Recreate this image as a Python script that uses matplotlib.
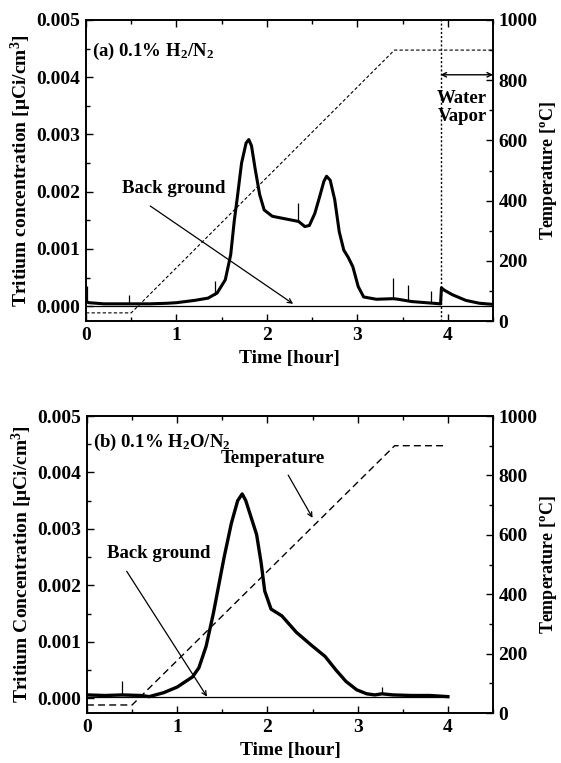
import matplotlib
matplotlib.use("Agg")
import matplotlib.pyplot as plt
from matplotlib.ticker import MultipleLocator, FormatStrFormatter

plt.rcParams['font.family'] = ['Liberation Serif', 'DejaVu Serif']
plt.rcParams['font.weight'] = 'bold'
plt.rcParams['mathtext.fontset'] = 'custom'
plt.rcParams['mathtext.rm'] = 'Liberation Serif:bold'
plt.rcParams['mathtext.bf'] = 'Liberation Serif:bold'
plt.rcParams['mathtext.it'] = 'Liberation Serif:bold:italic'
plt.rcParams['mathtext.default'] = 'rm'

# ---------------- Panel (a): 0.1% H2/N2 ----------------
a_time = [0.0, 0.03, 0.2, 0.4, 0.5, 0.7, 0.9, 1.0, 1.2, 1.35, 1.45,
          1.54, 1.60, 1.64, 1.67, 1.72, 1.77, 1.80, 1.83, 1.87, 1.92, 1.97, 2.06, 2.22,
          2.35, 2.42, 2.47, 2.53, 2.59, 2.63, 2.66, 2.70, 2.75, 2.80, 2.85,
          2.90, 2.95, 3.01, 3.07, 3.21, 3.40, 3.45, 3.60,
          3.92, 3.93, 3.96, 4.05, 4.2, 4.35, 4.5]
a_conc = [0.00008, 0.00006, 0.00004, 0.00004, 0.00004, 0.00004, 0.00005,
          0.00006, 0.0001, 0.00014, 0.00023, 0.00046, 0.0009, 0.0015,
          0.00186, 0.0025, 0.00285, 0.00291, 0.0028, 0.0024, 0.00195, 0.00168, 0.00157,
          0.00152, 0.00148, 0.00139, 0.00141, 0.00162, 0.00195, 0.00218,
          0.00227, 0.0022, 0.00186, 0.0013, 0.00098, 0.00085, 0.00069, 0.00034, 0.00016,
          0.00012, 0.00013, 0.00012, 0.00008,
          0.00004, 0.00032, 0.00028, 0.0002, 0.0001, 0.00005, 0.00003]
a_spike_time = [0.01, 0.48, 1.43, 2.34, 3.39, 3.56, 3.82]
a_spike_top = [0.00035, 0.0002, 0.00044, 0.0018, 0.0005, 0.00037, 0.00027]
a_spike_base = [0.00008, 0.00004, 0.0002, 0.00149, 0.00013, 0.0001, 0.00005]
a_temp_time = [0.0, 0.5, 3.41, 4.5]
a_temp = [27, 27, 900, 900]
a_vapor_time = 3.92

# ---------------- Panel (b): 0.1% H2O/N2 ----------------
b_time = [0.0, 0.2, 0.39, 0.6, 0.69, 0.85, 1.0, 1.17, 1.24, 1.32, 1.40, 1.46,
          1.52, 1.60, 1.67, 1.72, 1.76, 1.82, 1.88, 1.93, 1.97, 2.04, 2.16, 2.32, 2.48,
          2.64, 2.76, 2.87, 2.99, 3.10, 3.19, 3.27, 3.39, 3.6, 3.8, 4.0]
b_conc = [0.00006, 0.00005, 0.00006, 0.00005, 0.00003, 0.0001, 0.0002,
          0.00038, 0.00054, 0.00092, 0.0015, 0.0020, 0.0025, 0.0031, 0.0035, 0.00362,
          0.0035, 0.0032, 0.0029, 0.0024, 0.0019, 0.00158, 0.00146, 0.00117, 0.00095,
          0.00074, 0.0005, 0.0003, 0.00015, 0.00008, 0.00006, 0.00008,
          0.00006, 0.00005, 0.00005, 0.00003]
b_spike_time = [0.39, 3.27]
b_spike_top = [0.0003, 0.0002]
b_spike_base = [0.00006, 0.00008]
b_temp_time = [0.0, 0.5, 3.41, 3.98]
b_temp = [27, 27, 900, 900]

FS = 14
TFS = 13.5
RFS = 13


def style(ax, ax2, ylabel):
    ax.set_xlim(0, 4.5)
    ax.set_ylim(-0.00026, 0.005)
    ax2.set_ylim(0, 1000)
    ax.xaxis.set_major_locator(MultipleLocator(1))
    ax.xaxis.set_minor_locator(MultipleLocator(0.5))
    ax.yaxis.set_major_locator(MultipleLocator(0.001))
    ax.yaxis.set_minor_locator(MultipleLocator(0.0005))
    ax.yaxis.set_major_formatter(FormatStrFormatter('%.3f'))
    ax2.yaxis.set_major_locator(MultipleLocator(200))
    ax2.yaxis.set_minor_locator(MultipleLocator(100))
    ax.tick_params(which='both', direction='in', top=True, right=False,
                   labelsize=FS, width=1.0, pad=4)
    ax.tick_params(which='major', length=5)
    ax.tick_params(which='minor', length=3)
    ax2.tick_params(which='both', direction='in', labelsize=FS, width=1.0, pad=4)
    ax2.tick_params(which='major', length=5)
    ax2.tick_params(which='minor', length=3)
    for a in (ax, ax2):
        for s in a.spines.values():
            s.set_linewidth(1.2)
        for lab in a.get_xticklabels() + a.get_yticklabels():
            lab.set_fontweight('bold')
    ax.set_xlabel('Time [hour]', fontsize=FS, fontweight='bold', labelpad=5)
    ax.set_ylabel(ylabel, fontsize=FS, fontweight='bold', labelpad=2)
    ax2.set_ylabel('Temperature [$^{\\rm o}$C]', fontsize=RFS, fontweight='bold',
                   labelpad=0)


fig = plt.figure(figsize=(5.61, 7.63), dpi=100)

# ---- (a)
ax = fig.add_axes([86 / 561, 1 - 321 / 763, 407 / 561, 301 / 763])
ax2 = ax.twinx()
ax.plot([0, 4.5], [0, 0], color='black', lw=0.9)
ax.plot(a_time, a_conc, color='black', lw=2.2, solid_joinstyle='round')
ax.vlines(a_spike_time, a_spike_base, a_spike_top, color='black', lw=0.9)
ax2.plot(a_temp_time, a_temp, color='black', lw=0.8, ls=(0, (3, 2)))
ax2.axvline(a_vapor_time, color='black', lw=1.0, ls=(0, (1.5, 1.5)))
ax2.annotate('', xy=(a_vapor_time, 818), xytext=(4.5, 818),
             arrowprops=dict(arrowstyle='<->', color='black', lw=1.0,
                             shrinkA=0, shrinkB=0, mutation_scale=8))
ax2.text(4.16, 709, 'Water\nVapor', ha='center', va='center', fontsize=TFS,
         fontweight='bold', linespacing=1.1)
ax.text(0.015, 0.894, '(a) 0.1% H$_2$/N$_2$', transform=ax.transAxes,
        fontsize=TFS, fontweight='bold', va='center', ha='left')
ax.text(0.97, 0.00205, 'Back ground', ha='center', va='center', fontsize=TFS,
        fontweight='bold')
ax.annotate('', xy=(2.29, 0.00004), xytext=(0.71, 0.00175),
            arrowprops=dict(arrowstyle='->', color='black', lw=0.9,
                            shrinkA=0, shrinkB=0, mutation_scale=8))
style(ax, ax2, 'Tritium concentration [$\\mu$Ci/cm$^3$]')

# ---- (b)
bx = fig.add_axes([87 / 561, 1 - 713 / 763, 406 / 561, 297 / 763])
bx2 = bx.twinx()
bx.plot([0, 4.0], [0.00002, 0.00002], color='black', lw=0.9)
bx.plot(b_time, b_conc, color='black', lw=2.4, solid_joinstyle='round')
bx.vlines(b_spike_time, b_spike_base, b_spike_top, color='black', lw=0.9)
bx2.plot(b_temp_time, b_temp, color='black', lw=1.0, ls=(0, (5, 3)))
bx.text(0.015, 0.91, '(b) 0.1% H$_2$O/N$_2$', transform=bx.transAxes,
        fontsize=TFS, fontweight='bold', va='center', ha='left')
bx2.text(2.06, 858, 'Temperature', ha='center', va='center', fontsize=TFS,
         fontweight='bold')
bx2.annotate('', xy=(2.50, 657), xytext=(2.23, 801),
             arrowprops=dict(arrowstyle='->', color='black', lw=0.9,
                             shrinkA=0, shrinkB=0, mutation_scale=8))
bx.text(0.79, 0.00257, 'Back ground', ha='center', va='center', fontsize=TFS,
        fontweight='bold')
bx.annotate('', xy=(1.33, 0.00003), xytext=(0.44, 0.00225),
            arrowprops=dict(arrowstyle='->', color='black', lw=0.9,
                            shrinkA=0, shrinkB=0, mutation_scale=8))
style(bx, bx2, 'Tritium Concentration [$\\mu$Ci/cm$^3$]')

fig.savefig('out.png', dpi=100)
